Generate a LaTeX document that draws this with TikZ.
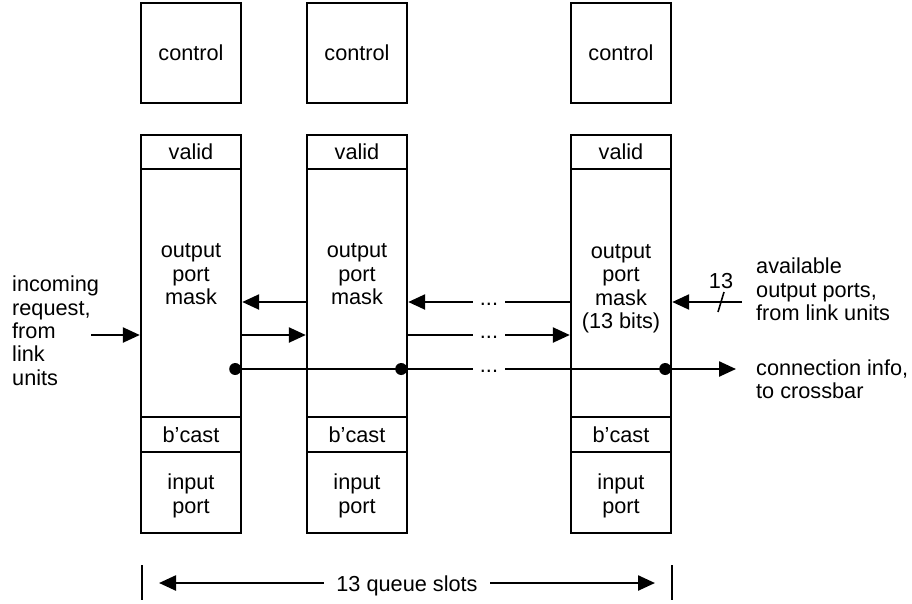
\documentclass[tikz,border=0pt]{standalone}
\usepackage{fontspec}
\setmainfont{Liberation Sans}
\usetikzlibrary{arrows.meta,calc}
\begin{document}
\begin{tikzpicture}[x=1pt,y=-1pt,
  font=\fontsize{21.7}{23.4}\selectfont,
  box/.style={draw, line width=2.4pt, inner sep=0pt, minimum width=100pt, align=center},
  lbl/.style={align=center, inner sep=0pt, anchor=base},
  txt/.style={align=left, inner sep=0pt, anchor=base west},
  wire/.style={line width=2.4pt},
  arr/.style={wire, -{Triangle[length=17pt,width=15pt]}},
  dotsnode/.style={inner sep=0pt, inner xsep=7pt, anchor=base},
  junction/.style={circle, fill, inner sep=0pt, minimum size=12pt}
]
\useasboundingbox (0,0) rectangle (912,603);

% columns
\foreach \i/\cx in {1/191,2/357,3/621}{
  \node[box, minimum height=100pt] (ctl\i) at (\cx,53) {control};
  \node[box, minimum height=34pt] (val\i) at (\cx,152) {valid};
  \node[box, minimum height=248pt] (msk\i) at (\cx,293) {};
  \node[box, minimum height=35pt] (bc\i) at (\cx,434.5) {b'cast};
  \node[box, minimum height=81pt] (inp\i) at (\cx,492.5) {};
  \node[lbl] (it\i) at (\cx,513) {input\\port};
}
% last-line baselines
\node[lbl] (mt1) at (191,304.5) {output\\port\\mask};
\node[lbl] (mt2) at (357,304.5) {output\\port\\mask};
\node[lbl] (mt3) at (621,328.5) {output\\port\\mask\\(13 bits)};

% rows of wires
\coordinate (yU) at (0,302);
\coordinate (yL) at (0,335);
\coordinate (yC) at (0,369);
\node[dotsnode] (dU) at (489,305.5) {...};
\node[dotsnode] (dL) at (489,338.5) {...};
\node[dotsnode] (dC) at (489,372.5) {...};

\draw[arr] (yU -| msk2.west) -- (yU -| msk1.east);
\draw[arr] (yL -| msk1.east) -- (yL -| msk2.west);
\draw[wire] (yU -| msk3.west) -- (yU -| dU.east);
\draw[arr] (yU -| dU.west) -- (yU -| msk2.east);
\draw[wire] (yL -| msk2.east) -- (yL -| dL.west);
\draw[arr] (yL -| dL.east) -- (yL -| msk3.west);
\draw[wire] (yC -| msk1.east) -- (yC -| dC.west);
\draw[wire] (yC -| dC.east) -- (yC -| msk3.east);
\coordinate (ciTip) at (736,369);
\draw[arr] (yC -| msk3.east) -- (ciTip);

\node[junction] (j1) at ($(yC -| msk1.east)+(-7,0)$) {};
\node[junction] (j2) at ($(yC -| msk2.east)+(-7,0)$) {};
\node[junction] (j3) at ($(yC -| msk3.east)+(-7,0)$) {};

% incoming request
\coordinate (inS) at (91,335);
\draw[arr] (inS) -- (yL -| msk1.west);
\node[txt] (inc) at (12,385.3) {incoming\\request,\\from\\link\\units};

% available output ports
\coordinate (avS) at (742,302);
\draw[arr] (avS) -- (yU -| msk3.east);
\coordinate (sl1) at (718,312);
\coordinate (sl2) at (724,292);
\draw[line width=1.6pt] (sl1) -- (sl2);
\node[anchor=base, inner sep=0pt] (n13) at (721,288) {13};
\node[txt] (avail) at (756,320.5) {available\\output ports,\\from link units};
\node[txt] (cinfo) at (756,398.8) {connection info,\\to crossbar};

% queue slots
\node[anchor=base, inner xsep=12.5pt, inner ysep=0pt] (qs) at (407,591.5) {13 queue slots};
\coordinate (yB) at (0,583);
\coordinate (bL) at (159,583);
\coordinate (bR) at (655,583);
\draw[arr] (yB -| qs.west) -- (bL);
\draw[arr] (yB -| qs.east) -- (bR);
\coordinate (tL1) at (142,565);
\coordinate (tL2) at (142,600);
\coordinate (tR1) at (672,565);
\coordinate (tR2) at (672,600);
\draw[wire] (tL1) -- (tL2);
\draw[wire] (tR1) -- (tR2);
\end{tikzpicture}
\end{document}
